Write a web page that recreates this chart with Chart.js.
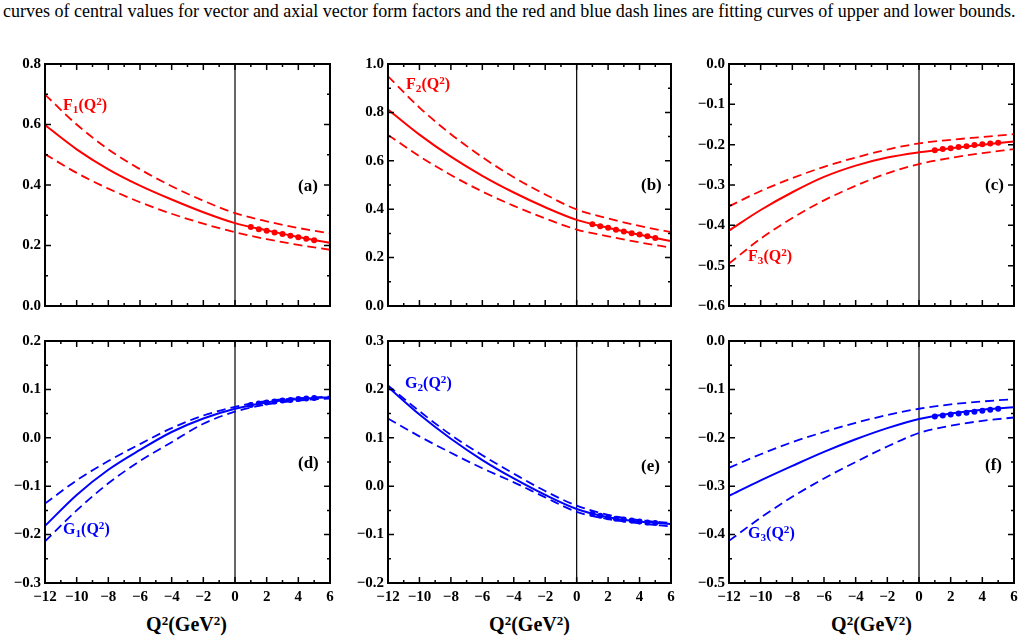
<!DOCTYPE html>
<html>
<head>
<meta charset="utf-8">
<script src="https://cdn.jsdelivr.net/npm/chart.js@4.4.1/dist/chart.umd.min.js"></script>
<style>
  html, body { margin: 0; padding: 0; background: #fff; }
  body { width: 1026px; height: 640px; position: relative; overflow: hidden;
         font-family: "Liberation Serif", "Times New Roman", "DejaVu Serif", serif; }
  .caption { position: absolute; left: 3px; top: 0px; font-family: "Liberation Serif", "Times New Roman", serif;
             font-size: 18px; line-height: 22px; white-space: nowrap; color: #000; }
  .panel { position: absolute; }
  .lbl { position: absolute; font-weight: bold; white-space: nowrap; line-height: 16px; }
  .lbl sub { font-size: 0.7em; vertical-align: -0.25em; line-height: 0; }
  .lbl sup { font-size: 0.7em; vertical-align: 0.45em; line-height: 0; }
  .tag { position: absolute; font-weight: bold; font-size: 17px; line-height: 18px; color: #000; }
  .xtitle { position: absolute; width: 285px; text-align: center; font-weight: bold; font-size: 20px;
            line-height: 20px; white-space: nowrap; }
  .xtitle sup { font-size: 0.65em; vertical-align: 0.5em; line-height: 0; }
</style>
</head>
<body>
<div class="caption">curves of central values for vector and axial vector form factors and the red and blue dash lines are fitting curves of upper and lower bounds.</div>

<script>
const q2Grid = [-12, -10, -8, -6, -4, -2, 0, 2, 4, 6];
const q2Points = [1, 1.5, 2, 2.5, 3, 3.5, 4, 4.5, 5];
const xTicks = [-12, 6, 2];

// F1
const f1Central = [0.598, 0.518, 0.452, 0.398, 0.352, 0.310, 0.274, 0.250, 0.228, 0.209];
const f1Upper   = [0.699, 0.600, 0.518, 0.452, 0.396, 0.348, 0.307, 0.280, 0.258, 0.240];
const f1Lower   = [0.502, 0.440, 0.388, 0.343, 0.305, 0.272, 0.244, 0.221, 0.202, 0.186];
const f1Points  = [0.261, 0.254, 0.249, 0.243, 0.238, 0.232, 0.227, 0.222, 0.217];
const f1Axis = [0, 0.8, 0.2, 0.1];

// F2
const f2Central = [0.812, 0.708, 0.617, 0.538, 0.469, 0.408, 0.356, 0.323, 0.294, 0.268];
const f2Upper   = [0.949, 0.820, 0.710, 0.615, 0.532, 0.461, 0.399, 0.362, 0.331, 0.305];
const f2Lower   = [0.707, 0.619, 0.541, 0.473, 0.414, 0.362, 0.316, 0.288, 0.263, 0.241];
const f2Points  = [0.338, 0.330, 0.323, 0.315, 0.308, 0.301, 0.295, 0.288, 0.281];
const f2Axis = [0, 1.0, 0.2, 0.1];

// F3
const f3Central = [-0.413, -0.362, -0.318, -0.280, -0.252, -0.232, -0.219, -0.209, -0.200, -0.192];
const f3Upper   = [-0.353, -0.315, -0.283, -0.255, -0.232, -0.212, -0.197, -0.188, -0.181, -0.174];
const f3Lower   = [-0.495, -0.433, -0.382, -0.338, -0.302, -0.271, -0.248, -0.233, -0.221, -0.211];
const f3Points  = [-0.214, -0.211, -0.209, -0.206, -0.204, -0.201, -0.199, -0.197, -0.195];
const f3Axis = [-0.6, 0, 0.1, 0.05];

// G1
const g1Central = [-0.182, -0.118, -0.066, -0.025, 0.012, 0.040, 0.060, 0.073, 0.080, 0.084];
const g1Upper   = [-0.136, -0.088, -0.048, -0.013, 0.020, 0.046, 0.064, 0.076, 0.082, 0.085];
const g1Lower   = [-0.214, -0.150, -0.094, -0.048, -0.009, 0.029, 0.054, 0.069, 0.077, 0.081];
const g1Points  = [0.068, 0.071, 0.073, 0.075, 0.077, 0.078, 0.080, 0.081, 0.082];
const g1Axis = [-0.3, 0.2, 0.1, 0.05];

// G2
const g2Central = [0.205, 0.148, 0.098, 0.054, 0.016, -0.018, -0.047, -0.064, -0.073, -0.078];
const g2Upper   = [0.208, 0.155, 0.106, 0.064, 0.026, -0.010, -0.040, -0.059, -0.070, -0.076];
const g2Lower   = [0.140, 0.103, 0.069, 0.037, 0.008, -0.023, -0.053, -0.068, -0.077, -0.083];
const g2Points  = [-0.057, -0.061, -0.064, -0.067, -0.069, -0.071, -0.073, -0.075, -0.076];
const g2Axis = [-0.2, 0.3, 0.1, 0.05];

// G3
const g3Central = [-0.320, -0.288, -0.258, -0.229, -0.203, -0.180, -0.161, -0.150, -0.142, -0.137];
const g3Upper   = [-0.262, -0.234, -0.209, -0.188, -0.169, -0.153, -0.140, -0.131, -0.125, -0.120];
const g3Lower   = [-0.413, -0.365, -0.322, -0.284, -0.250, -0.218, -0.190, -0.175, -0.165, -0.158];
const g3Points  = [-0.156, -0.154, -0.152, -0.150, -0.148, -0.146, -0.144, -0.142, -0.140];
const g3Axis = [-0.5, 0, 0.1, 0.05];

const RED = '#ff0000';
const BLUE = '#0000ff';
const FONT = "'Liberation Serif', 'Times New Roman', serif";

// frame, inward ticks on all four sides, and the Q^2 = 0 line
const frameTicks = {
  id: 'frameTicks',
  beforeDatasetsDraw(chart) {
    const { ctx, chartArea: a, scales: { x } } = chart;
    const x0 = x.getPixelForValue(0);
    ctx.save();
    ctx.strokeStyle = '#000';
    ctx.lineWidth = 1.2;
    ctx.beginPath();
    ctx.moveTo(x0, a.top);
    ctx.lineTo(x0, a.bottom);
    ctx.stroke();
    ctx.restore();
  },
  afterDatasetsDraw(chart, args, opts) {
    const { ctx, chartArea: a, scales: { x, y } } = chart;
    ctx.save();
    ctx.strokeStyle = '#000';
    ctx.lineWidth = 1.5;
    ctx.beginPath();
    const nx = Math.round(x.max - x.min);
    for (let i = 0; i <= nx; i++) {
      const px = x.getPixelForValue(x.min + i);
      const len = (i % 2 === 0) ? 6 : 3;
      ctx.moveTo(px, a.bottom); ctx.lineTo(px, a.bottom - len);
      ctx.moveTo(px, a.top); ctx.lineTo(px, a.top + len);
    }
    const ny = Math.round((y.max - y.min) / opts.minor);
    for (let i = 0; i <= ny; i++) {
      const py = y.getPixelForValue(y.min + i * opts.minor);
      const len = (i % 2 === 0) ? 6 : 3;
      ctx.moveTo(a.left, py); ctx.lineTo(a.left + len, py);
      ctx.moveTo(a.right, py); ctx.lineTo(a.right - len, py);
    }
    ctx.stroke();
    ctx.lineWidth = 2;
    ctx.strokeRect(a.left, a.top, a.right - a.left, a.bottom - a.top);
    ctx.restore();
  }
};

function pairs(xs, ys) {
  return xs.map((x, i) => ({ x: x, y: ys[i] }));
}

function fmtY(v) {
  if (Math.abs(v) < 1e-9) return '0.0';
  return v.toFixed(1).replace('-', '\u2212');
}

function makePanel(left, top, w, h, central, upper, lower, points, color, axis, showX) {
  const div = document.createElement('div');
  div.className = 'panel';
  div.style.left = left + 'px';
  div.style.top = top + 'px';
  const canvas = document.createElement('canvas');
  canvas.width = w;
  canvas.height = h;
  canvas.style.width = w + 'px';
  canvas.style.height = h + 'px';
  div.appendChild(canvas);
  document.body.appendChild(div);

  const lineBase = {
    showLine: true,
    borderColor: color,
    pointRadius: 0,
    cubicInterpolationMode: 'monotone',
    fill: false
  };

  new Chart(canvas, {
    type: 'scatter',
    data: {
      datasets: [
        Object.assign({}, lineBase, { data: pairs(q2Grid, upper), borderWidth: 1.8, borderDash: [9, 5] }),
        Object.assign({}, lineBase, { data: pairs(q2Grid, lower), borderWidth: 1.8, borderDash: [9, 5] }),
        Object.assign({}, lineBase, { data: pairs(q2Grid, central), borderWidth: 2 }),
        {
          data: pairs(q2Points, points),
          showLine: false,
          pointRadius: 3,
          pointBackgroundColor: color,
          pointBorderWidth: 0
        }
      ]
    },
    options: {
      responsive: false,
      animation: false,
      devicePixelRatio: 1,
      layout: { padding: { top: 12, right: 10, left: 0, bottom: 0 } },
      plugins: {
        legend: { display: false },
        tooltip: { enabled: false },
        frameTicks: { minor: axis[3] }
      },
      scales: {
        x: {
          type: 'linear',
          min: xTicks[0],
          max: xTicks[1],
          ticks: {
            stepSize: xTicks[2],
            display: showX,
            autoSkip: false,
            maxRotation: 0,
            padding: 5,
            color: '#000',
            font: { family: FONT, size: 15, weight: 'bold' },
            callback: v => String(v).replace('-', '\u2212')
          },
          grid: { display: false, drawTicks: false },
          border: { display: false },
          afterFit: s => { s.height = 24; }
        },
        y: {
          min: axis[0],
          max: axis[1],
          ticks: {
            stepSize: axis[2],
            padding: 4,
            color: '#000',
            font: { family: FONT, size: 15, weight: 'bold' },
            callback: v => fmtY(v)
          },
          grid: { display: false, drawTicks: false },
          border: { display: false },
          afterFit: s => { s.width = 45; }
        }
      }
    },
    plugins: [frameTicks]
  });
}

function addText(cls, html, left, top, color) {
  const d = document.createElement('div');
  d.className = cls;
  d.innerHTML = html;
  d.style.left = left + 'px';
  d.style.top = top + 'px';
  if (color) d.style.color = color;
  document.body.appendChild(d);
}

// top row
makePanel(0, 51, 340, 279, f1Central, f1Upper, f1Lower, f1Points, RED, f1Axis, false);
makePanel(343, 51, 338, 279, f2Central, f2Upper, f2Lower, f2Points, RED, f2Axis, false);
makePanel(684, 51, 340, 279, f3Central, f3Upper, f3Lower, f3Points, RED, f3Axis, false);
// bottom row
makePanel(0, 328, 340, 279, g1Central, g1Upper, g1Lower, g1Points, BLUE, g1Axis, true);
makePanel(343, 328, 338, 279, g2Central, g2Upper, g2Lower, g2Points, BLUE, g2Axis, true);
makePanel(684, 328, 340, 279, g3Central, g3Upper, g3Lower, g3Points, BLUE, g3Axis, true);

// curve labels
addText('lbl', 'F<sub>1</sub>(Q<sup>2</sup>)', 63, 97, RED);
addText('lbl', 'F<sub>2</sub>(Q<sup>2</sup>)', 406, 76, RED);
addText('lbl', 'F<sub>3</sub>(Q<sup>2</sup>)', 748, 248, RED);
addText('lbl', 'G<sub>1</sub>(Q<sup>2</sup>)', 63, 521, BLUE);
addText('lbl', 'G<sub>2</sub>(Q<sup>2</sup>)', 405, 375, BLUE);
addText('lbl', 'G<sub>3</sub>(Q<sup>2</sup>)', 748, 525, BLUE);

// panel tags
addText('tag', '(a)', 298, 177);
addText('tag', '(b)', 641, 176);
addText('tag', '(c)', 985, 176);
addText('tag', '(d)', 298, 454);
addText('tag', '(e)', 641, 457);
addText('tag', '(f)', 985, 456);

// x axis titles, centred under each bottom plot
addText('xtitle', 'Q<sup>2</sup>(GeV<sup>2</sup>)', 44, 614);
addText('xtitle', 'Q<sup>2</sup>(GeV<sup>2</sup>)', 387, 614);
addText('xtitle', 'Q<sup>2</sup>(GeV<sup>2</sup>)', 729, 614);
</script>
</body>
</html>
